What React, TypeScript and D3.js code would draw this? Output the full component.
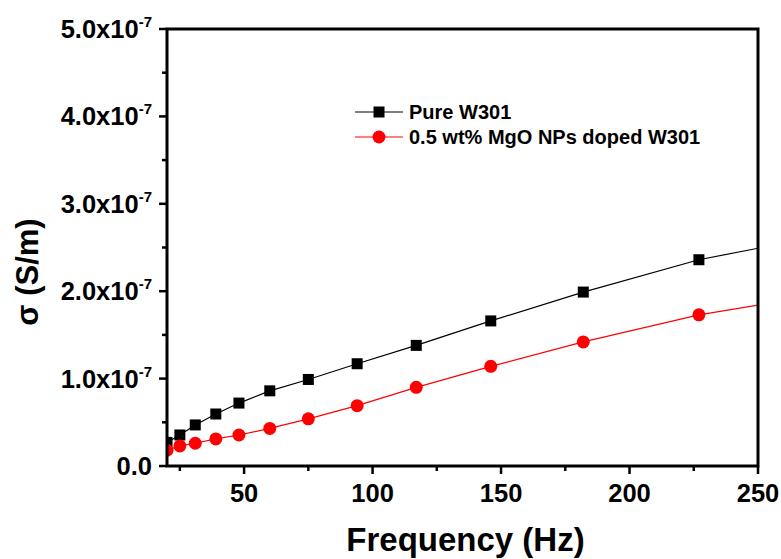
import * as d3 from 'd3';
import { useEffect, useRef } from 'react';

// frequency (Hz); the last point sits just past the axis and is clipped
const freqs = [20, 25, 31, 39, 48, 60, 75, 94, 117, 146, 182, 227, 283];
const pureW301 = [0.27, 0.355, 0.47, 0.595, 0.72, 0.86, 0.99, 1.17, 1.38, 1.66, 1.99, 2.36, 2.68];
const mgoDoped = [0.18, 0.23, 0.26, 0.31, 0.355, 0.43, 0.54, 0.69, 0.9, 1.14, 1.42, 1.73, 2.0];
const seriesNames = ['Pure W301', '0.5 wt% MgO NPs doped W301'];
const xTicks = [50, 100, 150, 200, 250];
const yTicks = [0, 1, 2, 3, 4, 5]; // x 1e-7

export default function App() {
  const ref = useRef<SVGSVGElement>(null);

  useEffect(() => {
    const svg = d3.select(ref.current);
    svg.selectAll('*').remove();

    const width = 781, height = 559;
    const m = { top: 29, right: 23, bottom: 93, left: 167 };
    const font = '"Liberation Sans", Arial, sans-serif';

    const x = d3.scaleLinear().domain([20, 250]).range([m.left, width - m.right]);
    const y = d3.scaleLinear().domain([0, 5]).range([height - m.bottom, m.top]);

    svg.append('defs').append('clipPath').attr('id', 'plot-clip')
      .append('rect')
      .attr('x', m.left).attr('y', m.top)
      .attr('width', width - m.left - m.right)
      .attr('height', height - m.top - m.bottom);

    // minor ticks
    const minorX = d3.range(25, 251, 25).filter((v) => v % 50 !== 0);
    const minorY = d3.range(0.5, 5, 1);
    const axes = svg.append('g').attr('stroke', '#000');
    axes.selectAll('line.mx').data(minorX).join('line')
      .attr('x1', (d) => x(d)).attr('x2', (d) => x(d))
      .attr('y1', y(0)).attr('y2', y(0) + 5).attr('stroke-width', 2.5);
    axes.selectAll('line.Mx').data(xTicks).join('line')
      .attr('x1', (d) => x(d)).attr('x2', (d) => x(d))
      .attr('y1', y(0)).attr('y2', y(0) + 8).attr('stroke-width', 2.5);
    axes.selectAll('line.my').data(minorY).join('line')
      .attr('y1', (d) => y(d)).attr('y2', (d) => y(d))
      .attr('x1', x(20)).attr('x2', x(20) - 5).attr('stroke-width', 2.5);
    axes.selectAll('line.My').data(yTicks).join('line')
      .attr('y1', (d) => y(d)).attr('y2', (d) => y(d))
      .attr('x1', x(20)).attr('x2', x(20) - 8).attr('stroke-width', 2.5);

    // tick labels
    svg.append('g').selectAll('text').data(xTicks).join('text')
      .attr('x', (d) => x(d)).attr('y', y(0) + 36)
      .attr('text-anchor', 'middle')
      .style('font', `bold 25.5px ${font}`)
      .text((d) => d);

    const yl = svg.append('g').selectAll('text').data(yTicks).join('text')
      .attr('x', x(20) - 15).attr('y', (d) => y(d) + 9)
      .attr('text-anchor', 'end')
      .style('font', `bold 25.5px ${font}`);
    yl.each(function (d) {
      const t = d3.select(this);
      if (d === 0) { t.text('0.0'); return; }
      t.append('tspan').text(`${d.toFixed(1)}x10`);
      t.append('tspan').attr('dy', -11).style('font-size', '15px').text('-7');
    });

    // series
    const plot = svg.append('g').attr('clip-path', 'url(#plot-clip)');
    const line = d3.line<number>().x((_, i) => x(freqs[i])).y((d) => y(d));
    plot.append('path').datum(pureW301).attr('d', line)
      .attr('fill', 'none').attr('stroke', '#000').attr('stroke-width', 1.2);
    plot.append('path').datum(mgoDoped).attr('d', line)
      .attr('fill', 'none').attr('stroke', '#ff0000').attr('stroke-width', 1.2);
    const sq = 11;
    plot.selectAll('rect.pt').data(pureW301).join('rect')
      .attr('x', (d, i) => x(freqs[i]) - sq / 2).attr('y', (d) => y(d) - sq / 2)
      .attr('width', sq).attr('height', sq).attr('fill', '#000');
    plot.selectAll('circle.pt').data(mgoDoped).join('circle')
      .attr('cx', (d, i) => x(freqs[i])).attr('cy', (d) => y(d))
      .attr('r', 6.5).attr('fill', '#ff0000');

    // frame
    svg.append('rect')
      .attr('x', m.left).attr('y', m.top)
      .attr('width', width - m.left - m.right)
      .attr('height', height - m.top - m.bottom)
      .attr('fill', 'none').attr('stroke', '#000').attr('stroke-width', 3);

    // legend
    const leg = svg.append('g');
    const rows = [
      { name: seriesNames[0], color: '#000', shape: 'square' },
      { name: seriesNames[1], color: '#ff0000', shape: 'circle' },
    ];
    rows.forEach((r, i) => {
      const ly = 112 + i * 25;
      leg.append('line').attr('x1', 355).attr('x2', 403).attr('y1', ly).attr('y2', ly)
        .attr('stroke', r.color).attr('stroke-width', 1.2);
      if (r.shape === 'square') {
        leg.append('rect').attr('x', 379 - 5.5).attr('y', ly - 5.5).attr('width', 11).attr('height', 11).attr('fill', r.color);
      } else {
        leg.append('circle').attr('cx', 379).attr('cy', ly).attr('r', 6.5).attr('fill', r.color);
      }
      leg.append('text').attr('x', 409).attr('y', ly + 7)
        .style('font', `bold 20px ${font}`).text(r.name);
    });

    // axis titles
    svg.append('text').attr('x', (x(20) + x(250)) / 2 + 3).attr('y', 551)
      .attr('text-anchor', 'middle').style('font', `bold 33px ${font}`)
      .text('Frequency (Hz)');
    svg.append('text').attr('transform', 'translate(38,272) rotate(-90)')
      .attr('text-anchor', 'middle').style('font', `bold 31px ${font}`)
      .text('σ (S/m)');
  }, []);

  return (
    <svg ref={ref} width={781} height={559}
      style={{ position: 'absolute', left: 0, top: 0, background: '#fff' }} />
  );
}
